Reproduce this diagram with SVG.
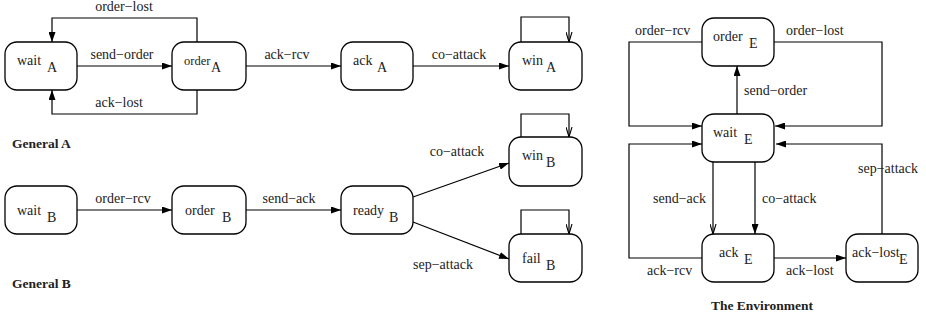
<svg xmlns="http://www.w3.org/2000/svg" width="926" height="321" viewBox="0 0 926 321">
<style>
.box{fill:#fff;stroke:#000;stroke-width:1.3}
.c{fill:none;stroke:#000;stroke-width:1.2}
text{font-family:"Liberation Serif","Times New Roman",serif;font-size:14px;fill:#222}
.t{font-weight:bold;font-size:13.5px}
.m{text-anchor:middle}
</style>
<defs>
<marker id="f" viewBox="0 0 10 7" refX="10" refY="3.5" markerWidth="10" markerHeight="7" markerUnits="userSpaceOnUse" orient="auto"><path d="M0,0 L10,3.5 L0,7 z" fill="#000"/></marker>
<marker id="o" viewBox="0 0 10 7" refX="10" refY="3.5" markerWidth="10" markerHeight="7" markerUnits="userSpaceOnUse" orient="auto"><path d="M0,0.5 L10,3.5 L0,6.5" fill="none" stroke="#000" stroke-width="1.1"/></marker>
</defs>
<g id="connectors">
<path class="c" d="M77,66 H172" marker-end="url(#f)"/>
<path class="c" d="M197,42 V18 H52 V42" marker-end="url(#f)"/>
<path class="c" d="M197,90 V114 H52 V90" marker-end="url(#f)"/>
<path class="c" d="M246,66 H341" marker-end="url(#f)"/>
<path class="c" d="M413,66 H509" marker-end="url(#f)"/>
<path class="c" d="M521,42 V17 H569 V42" marker-end="url(#o)"/>
<path class="c" d="M77,210 H172" marker-end="url(#f)"/>
<path class="c" d="M246,210 H341" marker-end="url(#f)"/>
<path class="c" d="M413,197 L509,163" marker-end="url(#f)"/>
<path class="c" d="M413,222 L509,259" marker-end="url(#f)"/>
<path class="c" d="M521,137 V114 H569 V137" marker-end="url(#o)"/>
<path class="c" d="M521,234 V210 H569 V234" marker-end="url(#o)"/>
<path class="c" d="M702,42 H629 V126 H702" marker-end="url(#f)"/>
<path class="c" d="M774,42 H882 V126 H775" marker-end="url(#f)"/>
<path class="c" d="M737,114 V66" marker-end="url(#f)"/>
<path class="c" d="M702,258 H629 V144 H702" marker-end="url(#f)"/>
<path class="c" d="M882,234 V144 H776" marker-end="url(#f)"/>
<path class="c" d="M713,162 V234" marker-end="url(#o)"/>
<path class="c" d="M755,162 V234" marker-end="url(#f)"/>
<path class="c" d="M774,258 H846" marker-end="url(#f)"/>
</g>
<g id="labels">
<text class="m" x="124" y="11">order−lost</text>
<text class="m" x="122" y="59">send−order</text>
<text class="m" x="119" y="107">ack−lost</text>
<text class="m" x="287" y="59">ack−rcv</text>
<text class="m" x="459" y="59">co−attack</text>
<text class="m" x="123" y="203">order−rcv</text>
<text class="m" x="289" y="203">send−ack</text>
<text class="m" x="457" y="156">co−attack</text>
<text class="m" x="443" y="269">sep−attack</text>
<text x="635" y="35">order−rcv</text>
<text x="786" y="35">order−lost</text>
<text x="744" y="95">send−order</text>
<text x="653" y="203">send−ack</text>
<text x="762" y="203">co−attack</text>
<text x="858" y="173">sep−attack</text>
<text x="647" y="275">ack−rcv</text>
<text x="786" y="275">ack−lost</text>
<text class="t" x="12" y="148">General A</text>
<text class="t" x="12" y="288">General B</text>
<text class="t m" x="762" y="310">The Environment</text>
</g>
<g id="waitA"><rect class="box" x="5" y="42" width="72" height="48" rx="12"/><text x="17" y="65">wait</text><text x="47" y="72">A</text></g>
<g id="orderA"><rect class="box" x="172" y="42" width="74" height="48" rx="12"/><text x="184" y="65" style="font-size:12.5px">order</text><text x="211" y="72">A</text></g>
<g id="ackA"><rect class="box" x="341" y="42" width="72" height="48" rx="12"/><text x="353" y="65">ack</text><text x="377" y="72">A</text></g>
<g id="winA"><rect class="box" x="509" y="42" width="73" height="48" rx="12"/><text x="522" y="65">win</text><text x="546" y="72">A</text></g>
<g id="waitB"><rect class="box" x="5" y="186" width="72" height="48" rx="12"/><text x="17" y="215">wait</text><text x="47" y="222">B</text></g>
<g id="orderB"><rect class="box" x="172" y="186" width="74" height="48" rx="12"/><text x="185" y="215">order</text><text x="222" y="222">B</text></g>
<g id="readyB"><rect class="box" x="341" y="186" width="72" height="48" rx="12"/><text x="353" y="215">ready</text><text x="389" y="222">B</text></g>
<g id="winB"><rect class="box" x="509" y="137" width="73" height="49" rx="12"/><text x="522" y="160">win</text><text x="546" y="167">B</text></g>
<g id="failB"><rect class="box" x="509" y="234" width="73" height="48" rx="12"/><text x="522" y="263">fail</text><text x="546" y="270">B</text></g>
<g id="orderE"><rect class="box" x="702" y="18" width="72" height="48" rx="12"/><text x="713" y="41">order</text><text x="749" y="48">E</text></g>
<g id="waitE"><rect class="box" x="702" y="114" width="72" height="48" rx="12"/><text x="713" y="137">wait</text><text x="744" y="144">E</text></g>
<g id="ackE"><rect class="box" x="702" y="234" width="72" height="48" rx="12"/><text x="719" y="257">ack</text><text x="744" y="264">E</text></g>
<g id="acklostE"><rect class="box" x="846" y="234" width="72" height="48" rx="12"/><text x="852" y="257">ack−lost</text><text x="899" y="264">E</text></g>
</svg>
